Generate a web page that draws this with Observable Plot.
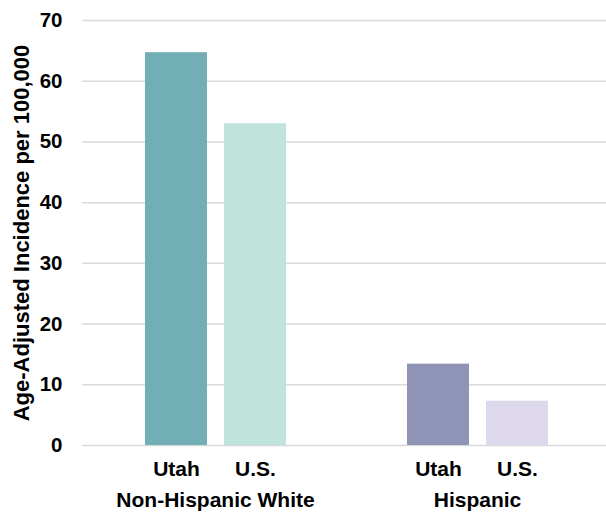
<!DOCTYPE html>
<html><head><meta charset="utf-8">
<script src="https://cdn.jsdelivr.net/npm/d3@7"></script>
<script src="https://cdn.jsdelivr.net/npm/@observablehq/plot@0.6"></script>
<style>body{margin:0;background:#fff} #chart svg{font-family:"Liberation Sans",Arial,sans-serif}</style>
</head><body><div id="chart"></div>
<script>
const groups = ["Non-Hispanic White", "Hispanic"];
const areas = ["Utah", "U.S."];
const nonHispanicWhite = [64.7, 53.0];
const hispanic = [13.4, 7.3];
const yTicks = [0, 10, 20, 30, 40, 50, 60, 70];
const yLabel = "Age-Adjusted Incidence per 100,000";
const barColors = ["#72aeb5", "#c0e4db", "#8f93b6", "#ddd8eb"];

const data = [];
[nonHispanicWhite, hispanic].forEach((vals, gi) =>
  vals.forEach((v, ai) => data.push({group: groups[gi], area: areas[ai], key: groups[gi] + "|" + areas[ai], value: v}))
);

const chart = Plot.plot({
  width: 606, height: 512,
  marginTop: 20, marginBottom: 67, marginLeft: 82, marginRight: 0,
  style: {fontFamily: "Liberation Sans, Arial, sans-serif", fontWeight: "bold", color: "#000", background: "#fff"},
  fx: {domain: groups, padding: 0},
  x: {domain: areas, paddingInner: 0.2125, paddingOuter: 0.74375, align: 0.525},
  y: {domain: [0, 70]},
  color: {domain: data.map(d => d.key), range: barColors},
  marks: [
    Plot.gridY(yTicks, {stroke: "#d9d9d9", strokeOpacity: 1, strokeWidth: 1.5}),
    Plot.barY(data, {fx: "group", x: "area", y: "value", fill: "key"}),
    Plot.axisY(yTicks, {tickSize: 0, tickPadding: 20, fontSize: 20.5, fontWeight: "bold", label: null}),
    Plot.axisY([], {tickSize: 0, fontSize: 22, fontWeight: "bold", label: yLabel, labelAnchor: "center", labelOffset: 69, labelArrow: "none"}),
    Plot.axisX({tickSize: 0, tickPadding: 16, fontSize: 21, fontWeight: "bold", label: null}),
    Plot.axisFx({anchor: "bottom", tickSize: 0, tickPadding: 47, fontSize: 21, fontWeight: "bold", label: null, dx: 2})
  ]
});
document.getElementById("chart").append(chart);
</script>
</body></html>
